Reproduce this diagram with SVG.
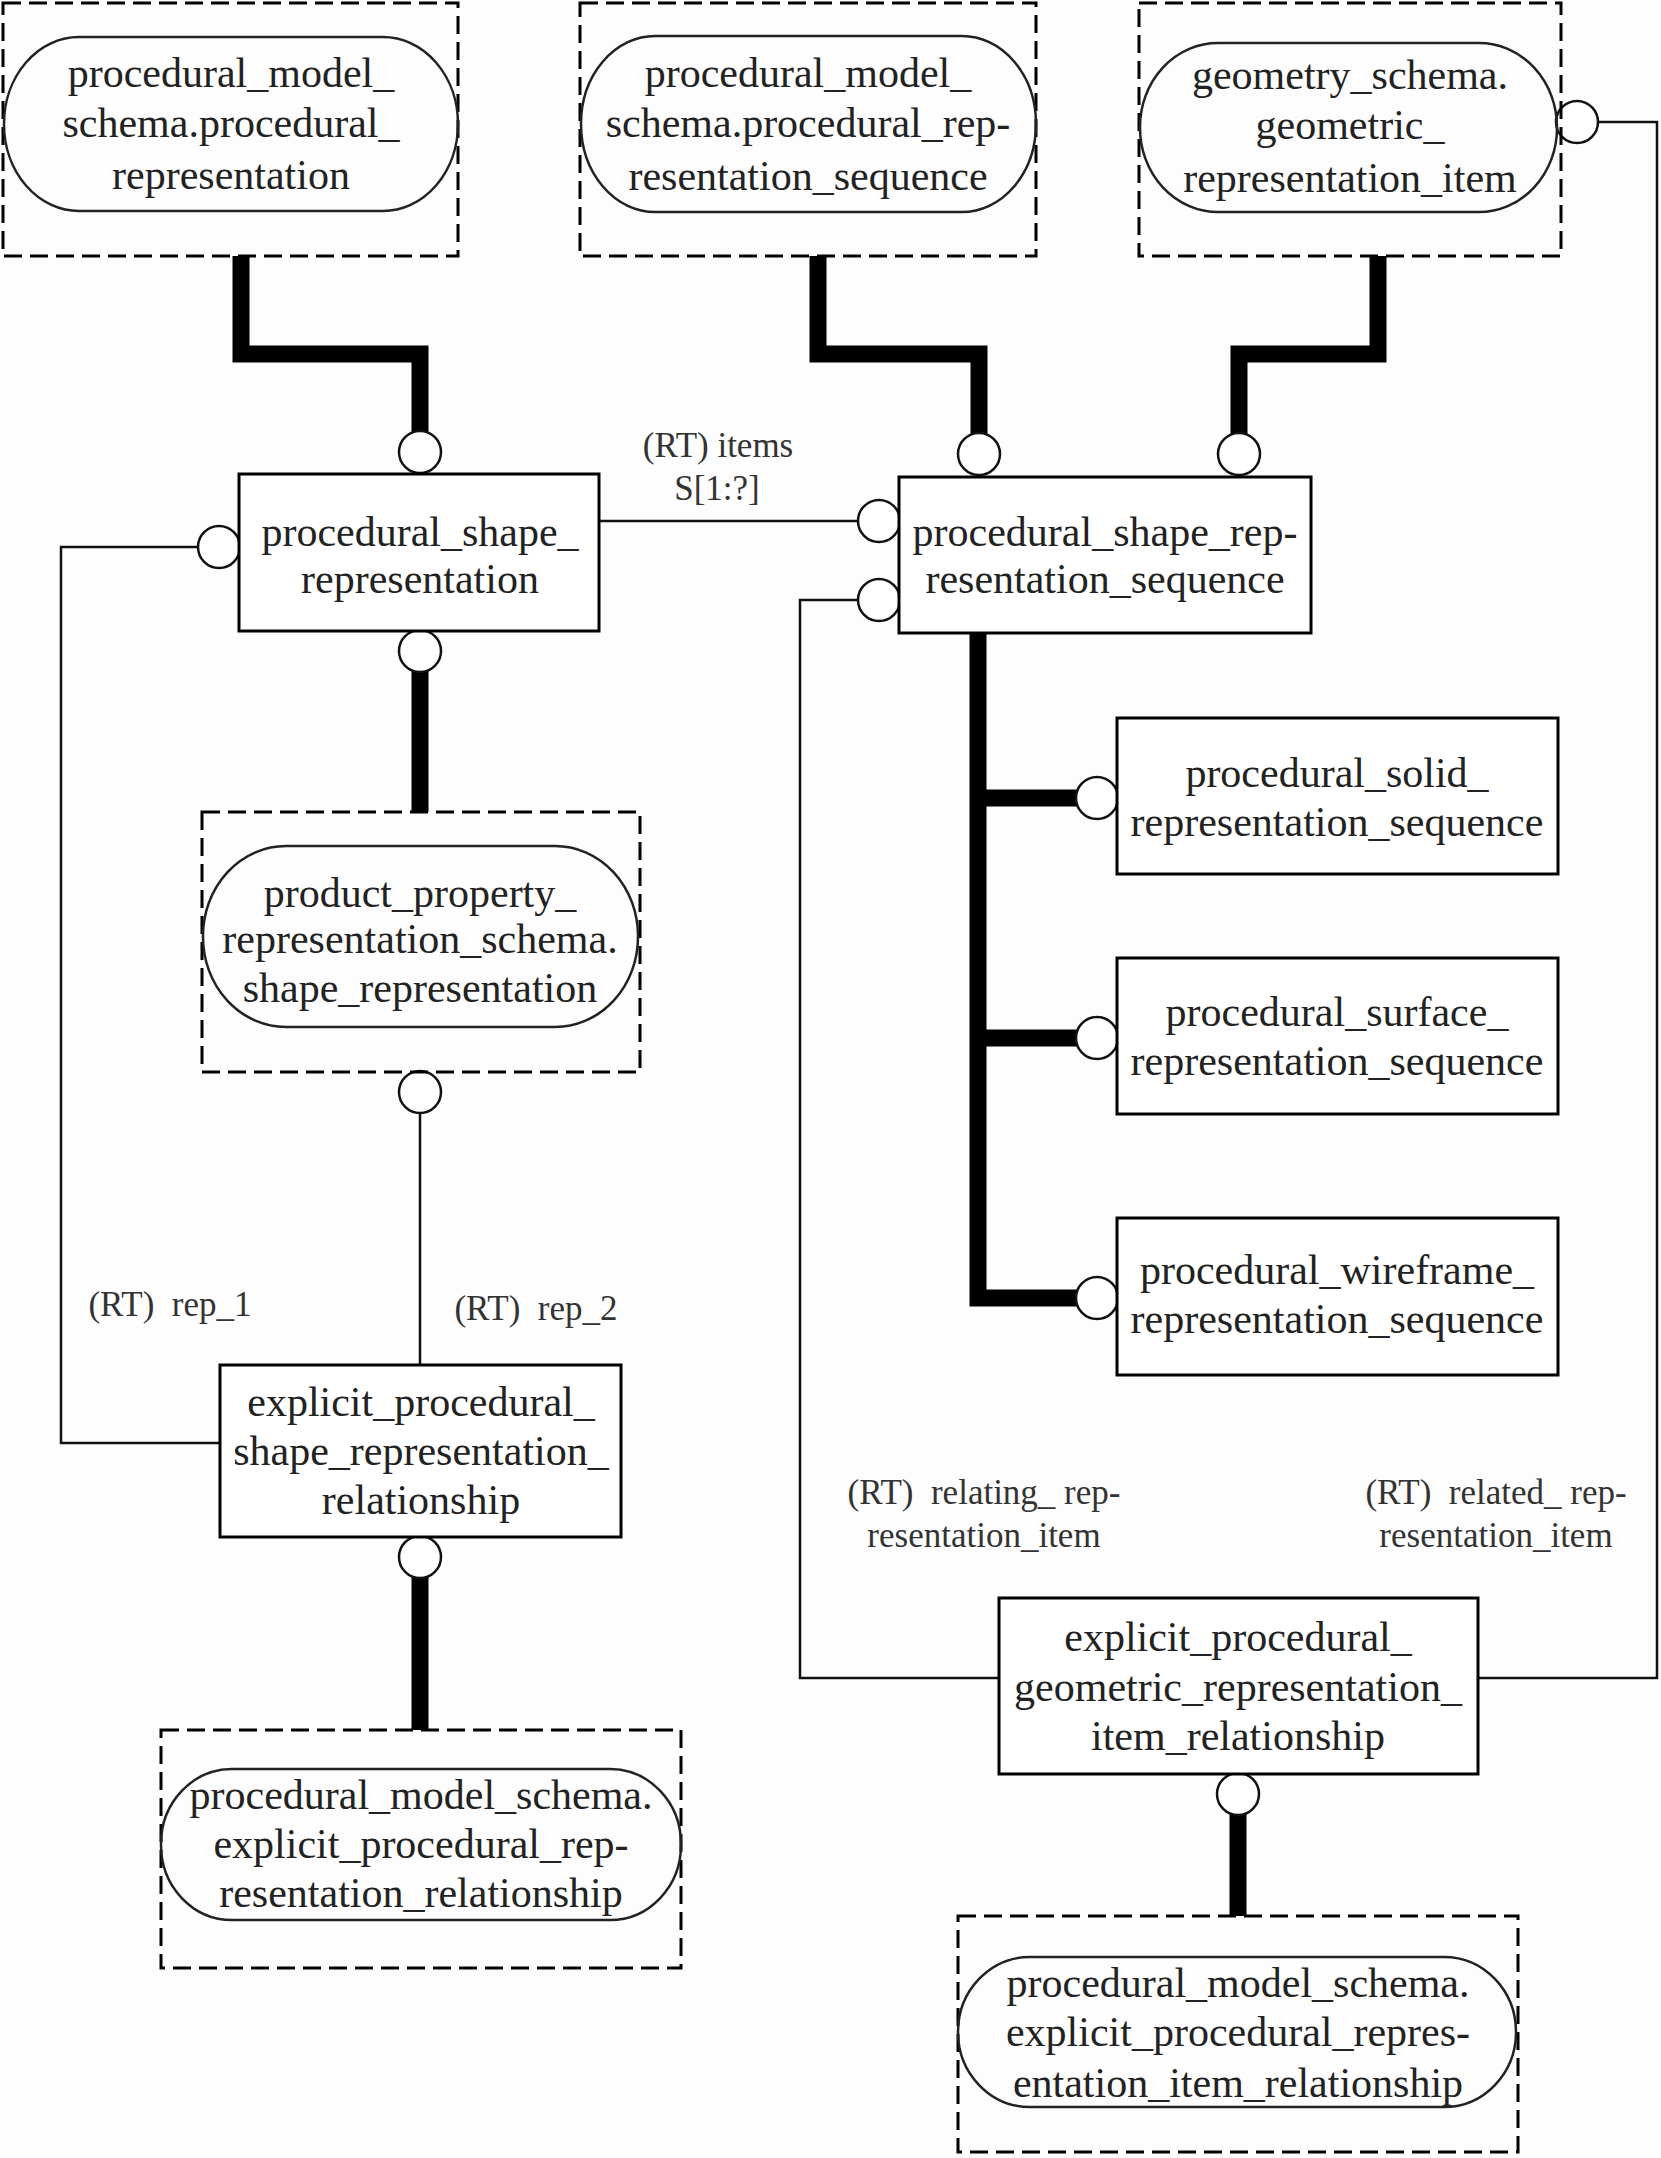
<svg xmlns="http://www.w3.org/2000/svg" width="1661" height="2158" viewBox="0 0 1661 2158">
<style>
  .bg{fill:#fdfdfd}
  .dash{fill:none;stroke:#000;stroke-width:3;stroke-dasharray:18 8}
  .stad{fill:none;stroke:#222;stroke-width:2.5}
  .box{fill:#fff;stroke:#000;stroke-width:3}
  .t{font-family:"Liberation Serif","Times New Roman",serif;font-size:42px;fill:#222;text-anchor:middle}
  .l{font-family:"Liberation Serif","Times New Roman",serif;font-size:35px;fill:#333;text-anchor:middle;white-space:pre}
  .thin{fill:none;stroke:#111;stroke-width:2.5}
  .thick{fill:none;stroke:#000;stroke-width:17;stroke-linejoin:miter}
  .circ{fill:#fff;stroke:#111;stroke-width:2.5}
</style>
<rect class="bg" x="0" y="0" width="1661" height="2158"/>

<g id="connectors">
  <path class="thin" d="M199 547 H61 V1443 H220"/>
  <path class="thin" d="M599 521 H859"/>
  <path class="thin" d="M859 600 H800 V1678 H999"/>
  <path class="thin" d="M1598 122 H1657 V1678 H1478"/>
  <path class="thin" d="M420 1113 V1365"/>
  <path class="thick" d="M241 256 V354 H420 V435"/>
  <path class="thick" d="M818 256 V354 H979 V435"/>
  <path class="thick" d="M1378 256 V354 H1239 V435"/>
  <path class="thick" d="M420 668 V812"/>
  <path class="thick" d="M978 633 V1298 H1079"/>
  <path class="thick" d="M978 798 H1079"/>
  <path class="thick" d="M978 1038 H1079"/>
  <path class="thick" d="M420 1575 V1730"/>
  <path class="thick" d="M1238 1812 V1916"/>
  <circle class="circ" cx="420" cy="452" r="21"/>
  <circle class="circ" cx="420" cy="651" r="21"/>
  <circle class="circ" cx="219" cy="547" r="21"/>
  <circle class="circ" cx="979" cy="454" r="21"/>
  <circle class="circ" cx="1239" cy="454" r="21"/>
  <circle class="circ" cx="879" cy="521" r="21"/>
  <circle class="circ" cx="879" cy="600" r="21"/>
  <circle class="circ" cx="1097" cy="798" r="21"/>
  <circle class="circ" cx="1097" cy="1038" r="21"/>
  <circle class="circ" cx="1097" cy="1298" r="21"/>
  <circle class="circ" cx="1577" cy="122" r="21"/>
  <circle class="circ" cx="420" cy="1092" r="21"/>
  <circle class="circ" cx="420" cy="1557" r="21"/>
  <circle class="circ" cx="1238" cy="1794" r="21"/>
  <text class="l" x="718" y="457">(RT) items</text>
  <text class="l" x="717" y="500">S[1:?]</text>
  <text class="l" x="170" y="1316">(RT)  rep_1</text>
  <text class="l" x="536" y="1320">(RT)  rep_2</text>
  <text class="l" x="984" y="1504">(RT)  relating_ rep-</text>
  <text class="l" x="984" y="1547">resentation_item</text>
  <text class="l" x="1496" y="1504">(RT)  related_ rep-</text>
  <text class="l" x="1496" y="1547">resentation_item</text>
</g>

<g id="pm_procedural_representation">
  <rect class="dash" x="3" y="3" width="455" height="253"/>
  <rect class="stad" x="4" y="37" width="454" height="174" rx="75" ry="87"/>
  <text class="t" x="231" y="87">procedural_model_</text>
  <text class="t" x="231" y="137">schema.procedural_</text>
  <text class="t" x="231" y="189">representation</text>
</g>

<g id="pm_procedural_representation_sequence">
  <rect class="dash" x="580" y="3" width="456" height="253"/>
  <rect class="stad" x="581" y="36" width="455" height="176" rx="74" ry="88"/>
  <text class="t" x="808" y="87">procedural_model_</text>
  <text class="t" x="808" y="137">schema.procedural_rep-</text>
  <text class="t" x="808" y="190">resentation_sequence</text>
</g>

<g id="geometric_representation_item">
  <rect class="dash" x="1139" y="3" width="422" height="253"/>
  <rect class="stad" x="1140" y="43" width="417" height="169" rx="78" ry="84"/>
  <text class="t" x="1350" y="89">geometry_schema.</text>
  <text class="t" x="1350" y="139">geometric_</text>
  <text class="t" x="1350" y="192">representation_item</text>
</g>

<g id="procedural_shape_representation">
  <rect class="box" x="239" y="474" width="360" height="157"/>
  <text class="t" x="420" y="546">procedural_shape_</text>
  <text class="t" x="420" y="593">representation</text>
</g>

<g id="procedural_shape_representation_sequence">
  <rect class="box" x="899" y="477" width="412" height="156"/>
  <text class="t" x="1105" y="546">procedural_shape_rep-</text>
  <text class="t" x="1105" y="593">resentation_sequence</text>
</g>

<g id="procedural_solid_representation_sequence">
  <rect class="box" x="1117" y="718" width="441" height="156"/>
  <text class="t" x="1337" y="787">procedural_solid_</text>
  <text class="t" x="1337" y="836">representation_sequence</text>
</g>

<g id="procedural_surface_representation_sequence">
  <rect class="box" x="1117" y="958" width="441" height="156"/>
  <text class="t" x="1337" y="1026">procedural_surface_</text>
  <text class="t" x="1337" y="1075">representation_sequence</text>
</g>

<g id="procedural_wireframe_representation_sequence">
  <rect class="box" x="1117" y="1218" width="441" height="157"/>
  <text class="t" x="1337" y="1284">procedural_wireframe_</text>
  <text class="t" x="1337" y="1333">representation_sequence</text>
</g>

<g id="shape_representation">
  <rect class="dash" x="202" y="812" width="438" height="260"/>
  <rect class="stad" x="203" y="846" width="435" height="181" rx="83" ry="90"/>
  <text class="t" x="420" y="907">product_property_</text>
  <text class="t" x="420" y="953">representation_schema.</text>
  <text class="t" x="420" y="1002">shape_representation</text>
</g>

<g id="explicit_procedural_shape_representation_relationship">
  <rect class="box" x="220" y="1365" width="401" height="172"/>
  <text class="t" x="421" y="1416">explicit_procedural_</text>
  <text class="t" x="421" y="1465">shape_representation_</text>
  <text class="t" x="421" y="1514">relationship</text>
</g>

<g id="explicit_procedural_representation_relationship">
  <rect class="dash" x="161" y="1730" width="520" height="238"/>
  <rect class="stad" x="161" y="1769" width="520" height="151" rx="71" ry="75"/>
  <text class="t" x="421" y="1809">procedural_model_schema.</text>
  <text class="t" x="421" y="1858">explicit_procedural_rep-</text>
  <text class="t" x="421" y="1907">resentation_relationship</text>
</g>

<g id="explicit_procedural_geometric_representation_item_relationship">
  <rect class="box" x="999" y="1598" width="479" height="176"/>
  <text class="t" x="1238" y="1651">explicit_procedural_</text>
  <text class="t" x="1238" y="1701">geometric_representation_</text>
  <text class="t" x="1238" y="1750">item_relationship</text>
</g>

<g id="explicit_procedural_representation_item_relationship">
  <rect class="dash" x="958" y="1916" width="560" height="236"/>
  <rect class="stad" x="958" y="1957" width="558" height="150" rx="72" ry="75"/>
  <text class="t" x="1238" y="1997">procedural_model_schema.</text>
  <text class="t" x="1238" y="2046">explicit_procedural_repres-</text>
  <text class="t" x="1238" y="2097">entation_item_relationship</text>
</g>
</svg>
